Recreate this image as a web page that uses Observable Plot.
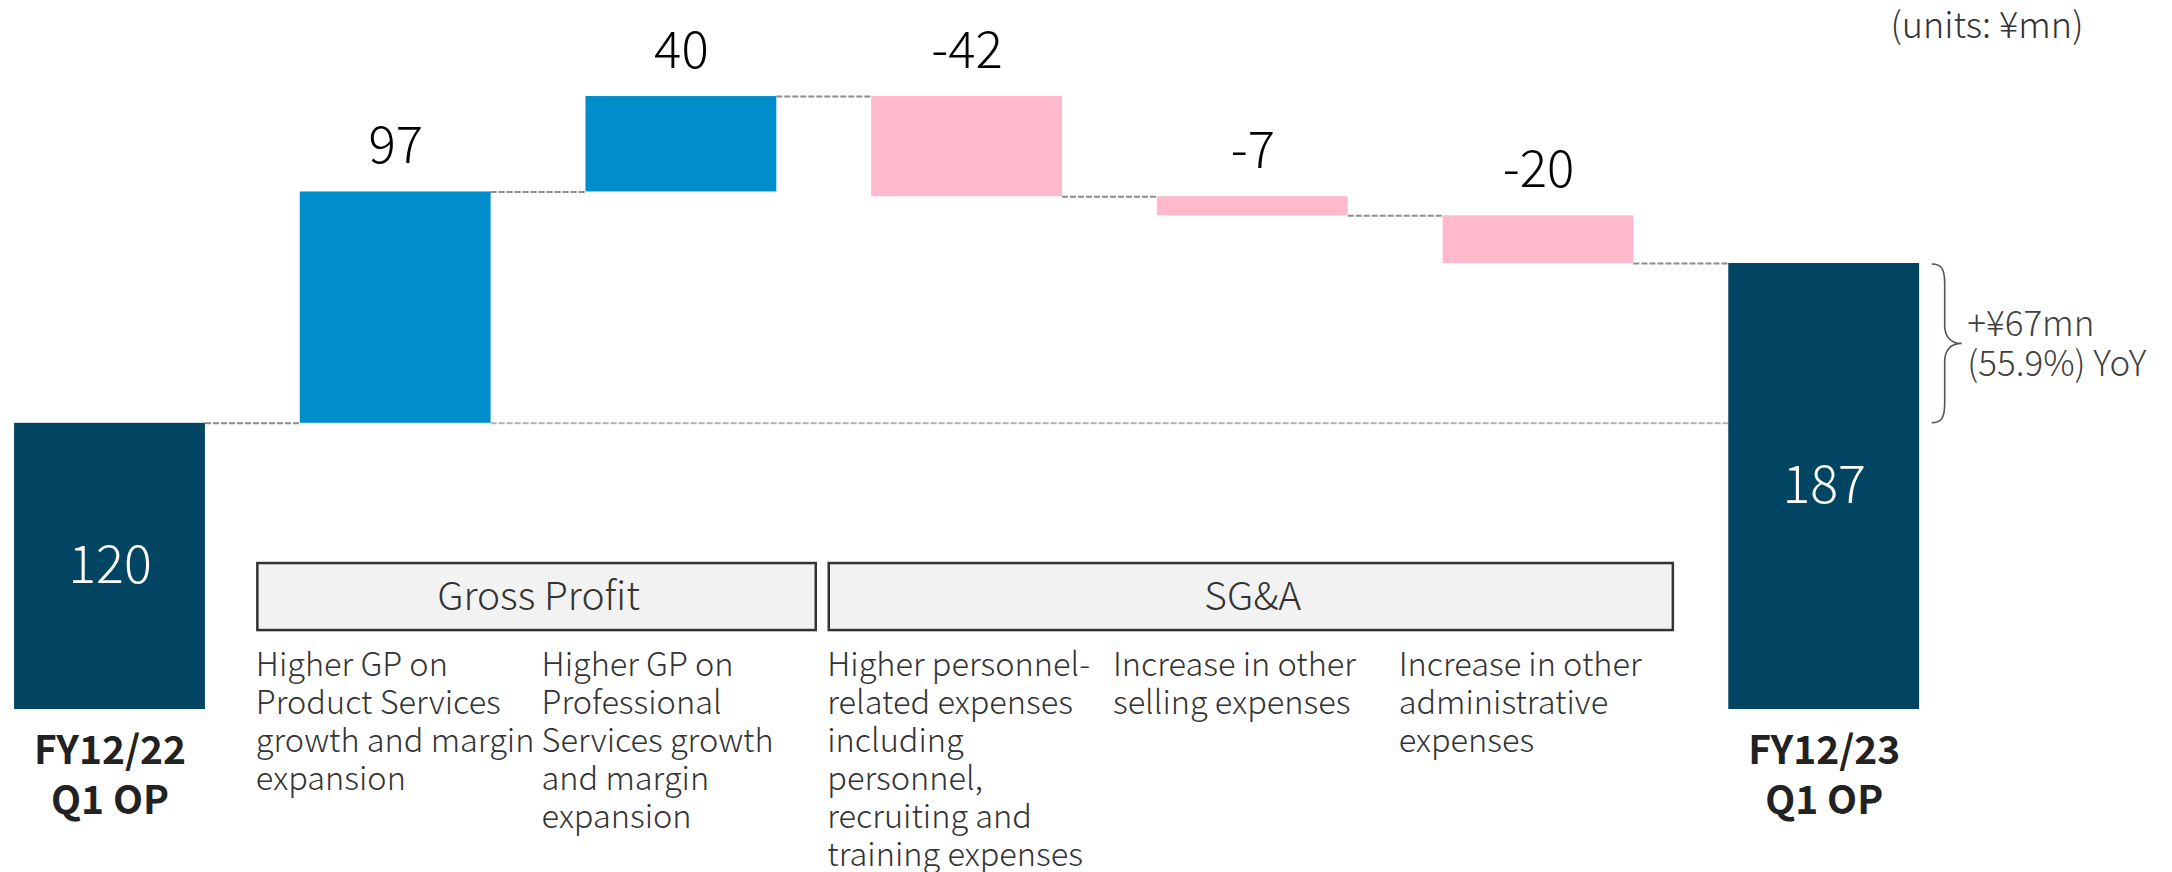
<!DOCTYPE html>
<html>
<head>
<meta charset="utf-8">
<script src="https://cdn.jsdelivr.net/npm/d3@7"></script>
<script src="https://cdn.jsdelivr.net/npm/@observablehq/plot@0.6"></script>
<style>
  html, body { margin: 0; padding: 0; background: #fff; }
</style>
</head>
<body>
<div id="chart"></div>
<script>
// ---- data ----
const categories = ["FY12/22\nQ1 OP", "GP Product", "GP Professional", "SG&A personnel", "SG&A selling", "SG&A admin", "FY12/23\nQ1 OP"];
const kinds = ["total", "up", "up", "down", "down", "down", "total"];
const values = [120, 97, 40, -42, -8, -20, 187];          // bar heights (¥mn)
const labels = ["120", "97", "40", "-42", "-7", "-20", "187"]; // printed labels
const descriptions = [
  "",
  "Higher GP on\nProduct Services\ngrowth and margin\nexpansion",
  "Higher GP on\nProfessional\nServices growth\nand margin\nexpansion",
  "Higher personnel-\nrelated expenses\nincluding\npersonnel,\nrecruiting and\ntraining expenses",
  "Increase in other\nselling expenses",
  "Increase in other\nadministrative\nexpenses",
  ""
];
const groupNames = ["Gross Profit", "SG&A"];
const groupFrom = [1, 3];
const groupTo = [2, 5];
const unitsText = "(units: ¥mn)";
const yoyText = "+¥67mn\n(55.9%) YoY";

// ---- build table ----
const colors = {total: "#014562", up: "#008dcb", down: "#ffb8cc"};
let running = 0;
const bars = categories.map((c, i) => {
  let lo, hi;
  if (kinds[i] === "total") { lo = 0; hi = values[i]; running = values[i]; }
  else { const s = running; running += values[i]; lo = Math.min(s, running); hi = Math.max(s, running); }
  return {i, cat: c, kind: kinds[i], lo, hi, label: labels[i], level: kinds[i] === "total" ? values[i] : running};
});
const hw = 0.334; // half bar width in band units
const connectors = bars.slice(0, -1).map((b, k) => ({x1: b.i + hw, x2: bars[k + 1].i - hw, y: b.level}));
const groups = groupNames.map((g, k) => ({name: g, from: groupFrom[k], to: groupTo[k]}));
const totals = bars.filter(b => b.kind === "total");
const deltas = bars.filter(b => b.kind !== "total");
const font = "Noto Sans CJK JP";

const brace = (index, {x, y}) => {
  const x0 = x(bars[6].i) + 108, xv = x0 + 13, tip = x0 + 30;
  const yTop = y(bars[6].hi) + 1, yBot = y(bars[0].hi), yMid = (yTop + yBot) / 2;
  const p = `M${x0},${yTop} C${x0 + 10},${yTop} ${xv},${yTop + 5} ${xv},${yTop + 20} L${xv},${yMid - 18} C${xv},${yMid - 8} ${xv + 5},${yMid} ${tip},${yMid} C${xv + 5},${yMid} ${xv},${yMid + 8} ${xv},${yMid + 18} L${xv},${yBot - 20} C${xv},${yBot - 5} ${x0 + 10},${yBot} ${x0},${yBot}`;
  const path = document.createElementNS("http://www.w3.org/2000/svg", "path");
  path.setAttribute("d", p);
  path.setAttribute("fill", "none");
  path.setAttribute("stroke", "#555");
  path.setAttribute("stroke-width", "1.6");
  return path;
};

const chart = Plot.plot({
  width: 2172,
  height: 872,
  margin: 0,
  style: {fontFamily: font, background: "#fff"},
  x: {type: "linear", domain: [0, 6], range: [109.5, 1823.7], axis: null},
  y: {type: "linear", domain: [0, 100], range: [709, 709 - 238.5], axis: null},
  marks: [
    // long reference line at starting level
    Plot.ruleY([bars[0]], {y: "hi", x1: () => bars[1].i + hw, x2: () => bars[6].i - hw, stroke: "#b0b0b0", strokeWidth: 2, strokeDasharray: "6,2"}),
    Plot.ruleY(connectors, {y: "y", x1: "x1", x2: "x2", stroke: "#8c8c8c", strokeWidth: 2, strokeDasharray: "6,2"}),
    Plot.rect(bars, {x1: d => d.i - hw, x2: d => d.i + hw, y1: "lo", y2: "hi", fill: d => colors[d.kind]}),
    // labels above change bars
    Plot.text(deltas, {x: "i", y: "hi", text: "label", dy: -29, lineAnchor: "bottom", fontSize: 51, fontWeight: 300, fill: "#000"}),
    // labels inside total bars
    Plot.text(totals, {x: "i", y: d => d.hi / 2, text: "label", lineAnchor: "middle", fontSize: 52, fontWeight: 300, fill: "#fff"}),
    // category labels under totals
    Plot.text(totals, {x: "i", y: () => 0, text: "cat", dy: 18, lineAnchor: "top", fontSize: 39, fontWeight: "bold", lineHeight: 1.3, fill: "#222"}),
    // group boxes
    Plot.rect(groups, {x1: d => d.from - 0.5, x2: d => d.to + 0.5, y1: () => 33.1, y2: () => 61.2, insetLeft: 5, insetRight: 8, fill: "#f2f2f2", stroke: "#333", strokeWidth: 2.5}),
    Plot.text(groups, {x: d => (d.from + d.to) / 2, y: () => 47.1, text: "name", lineAnchor: "middle", fontSize: 39, fontWeight: 300, fill: "#333"}),
    // descriptions
    Plot.text(bars, {x: d => d.i - 0.5, y: () => 0, text: d => descriptions[d.i], dx: 3, dy: -61, textAnchor: "start", lineAnchor: "top", fontSize: 32.5, fontWeight: 300, lineHeight: 1.17, fill: "#333"}),
    // units
    Plot.text([unitsText], {frameAnchor: "top-right", dx: -89, dy: 12, fontSize: 36, fontWeight: 300, fill: "#333"}),
    // brace + YoY annotation
    brace,
    Plot.text([yoyText], {x: () => bars[6].i, y: () => (bars[0].hi + bars[6].hi) / 2, dx: 143, textAnchor: "start", lineAnchor: "middle", fontSize: 35, fontWeight: 300, lineHeight: 1.12, fill: "#404040"})
  ]
});
document.getElementById("chart").appendChild(chart);
</script>
</body>
</html>
